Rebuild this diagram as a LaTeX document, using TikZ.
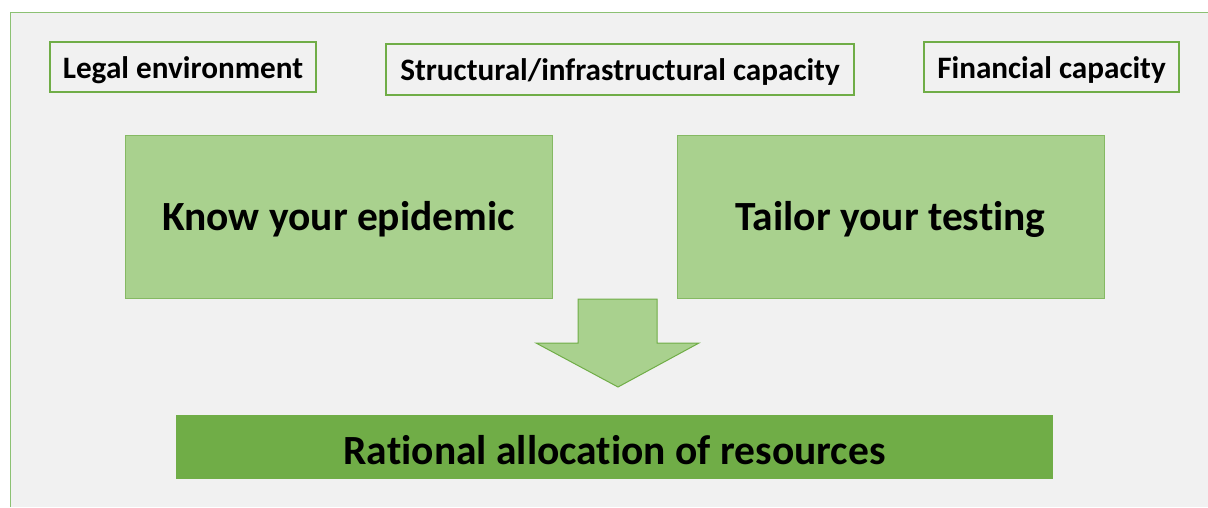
\documentclass[tikz,border=0pt]{standalone}
\usepackage{fontspec}
\setmainfont{Carlito}[Ligatures=NoCommon]
\newcommand{\dn}[1]{\raisebox{-3pt}[\height][\depth]{#1}}
\begin{document}
\begin{tikzpicture}[x=1pt,y=-1pt,
  smallbox/.style={draw=boxgreen,line width=1.2pt,fill=panelgrey,inner sep=0pt,font=\bfseries\fontsize{31.2}{36}\selectfont},
  bigbox/.style={draw=boxgreen!85!white,line width=1pt,fill=lightgreen,inner sep=0pt,font=\bfseries\fontsize{41.5}{48}\selectfont},
  barbox/.style={fill=darkgreen,inner sep=0pt,font=\bfseries\fontsize{41.5}{48}\selectfont}]
\definecolor{panelgrey}{HTML}{F1F1F1}
\definecolor{boxgreen}{HTML}{70AD47}
\definecolor{lightgreen}{HTML}{A9D18E}
\definecolor{darkgreen}{HTML}{70AD47}
\definecolor{bordergreen}{HTML}{8CC173}
\useasboundingbox (0,0) rectangle (1208,507);
\fill[white] (0,0) rectangle (1208,507);
\fill[panelgrey] (10,12) rectangle (1208,507);
\draw[bordergreen,line width=1pt] (10,507) -- (10,12) -- (1208,12);
\node[smallbox,minimum width=266pt,minimum height=50pt] (legal) at (183,67) {\dn{Legal environment}};
\node[smallbox,minimum width=468pt,minimum height=51pt] (struct) at (620,69.5) {\dn{Structural/infrastructural capacity}};
\node[smallbox,minimum width=255pt,minimum height=50pt] (fin) at (1051.5,67) {\dn{Financial capacity}};
\node[bigbox,minimum width=427pt,minimum height=163pt] (know) at (338.5,216.5) {\dn{Know your epidemic}};
\node[bigbox,minimum width=427pt,minimum height=163pt] (tailor) at (890.5,216.5) {\dn{Tailor your testing}};
\node[barbox,minimum width=877pt,minimum height=64pt] (rational) at (614.5,447) {\dn{Rational allocation of resources}};
\draw[fill=lightgreen,draw=boxgreen,line width=1pt,line join=miter]
  (578,299) -- (657,299) -- (657,343) -- (699,343) -- (618,387) -- (536,343) -- (578,343) -- cycle;
\end{tikzpicture}
\end{document}
